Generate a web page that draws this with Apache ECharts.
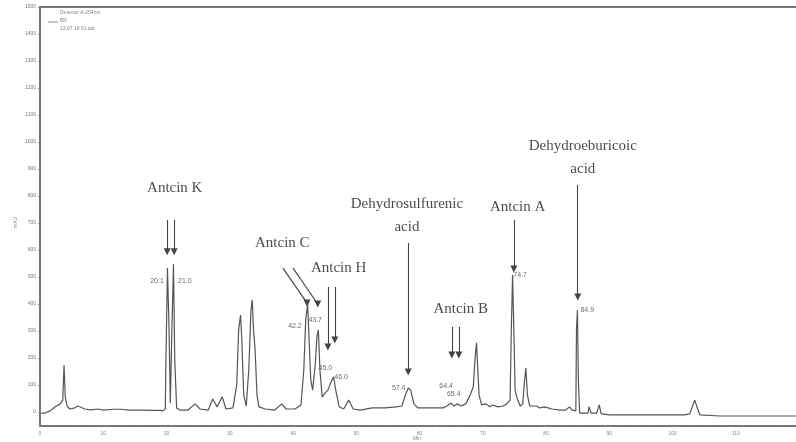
<!DOCTYPE html>
<html><head><meta charset="utf-8">
<script src="https://cdn.jsdelivr.net/npm/echarts@6/dist/echarts.min.js"></script>
<style>html,body{margin:0;padding:0;background:#fff}#c{width:796px;height:442px}</style>
</head><body><div id="c"></div>
<script>
// ---- data ----
const traceTime = [0.2,0.8,1.6,2.4,3.2,3.6,3.8,4.0,4.3,4.7,5.5,6.0,6.3,7.1,8.0,9.2,10.0,11.7,12.8,14.0,16.0,18.0,19.0,
  19.4,19.8,19.9,20.15,20.4,20.6,20.85,21.1,21.3,21.6,22.1,23.4,24.5,25.3,26.6,27.3,28.0,28.8,29.4,30.5,
  31.1,31.4,31.7,31.9,32.2,32.6,33.0,33.35,33.55,33.75,34.0,34.3,34.6,35.6,37.1,38.2,38.9,40.3,
  41.25,41.7,42.0,42.3,42.5,42.8,43.1,43.5,43.8,44.0,44.25,44.6,45.05,45.5,46.0,46.4,46.8,47.3,48.0,48.8,49.5,50.6,52.5,54.5,
  56.3,57.2,57.7,58.2,58.6,59.1,59.7,61.6,63.7,64.3,65.0,65.4,66.0,66.5,67.3,68.0,68.5,68.75,69.0,69.2,69.4,69.8,70.5,71.1,71.6,72.4,73.2,73.8,
  74.3,74.5,74.7,74.9,75.1,75.4,75.9,76.3,76.6,76.8,77.05,77.4,78.5,79.0,79.8,80.9,82.2,83.1,83.7,84.1,84.7,84.8,84.95,85.1,85.3,
  86.1,86.6,86.8,87.1,88.0,88.4,88.7,90.1,93.3,96.4,99.6,101.9,102.7,103.2,103.5,103.8,104.3,107.5,110.6,113.8,119.5];
const traceSignal = [-4,-4,4,19,30,44,174,52,22,11,15,22,15,11,8,11,7,10,10,7,7,6,6,
  4,11,181,533,304,33,304,548,193,15,7,7,30,11,7,48,19,56,11,15,
  100,304,359,267,63,22,156,378,415,304,230,63,19,11,7,30,11,11,
  26,156,341,400,285,119,81,174,285,304,156,56,70,81,111,130,74,19,11,44,11,7,15,15,
  19,22,59,89,81,30,15,15,15,22,33,22,30,22,30,63,94,193,256,156,63,26,30,19,26,19,22,30,
  44,304,507,304,81,52,22,30,119,163,63,22,22,15,19,11,7,7,19,7,4,304,378,119,-4,
  -4,-4,19,-4,-4,26,-7,-11,-11,-11,-11,-11,-7,26,44,22,-11,-15,-15,-15,-15];
const xTickLabels = [0,10,20,30,40,50,60,70,80,90,100,110];
const yTickLabels = [0,100,200,300,400,500,600,700,800,900,1000,1100,1200,1300,1400,1500];
const compoundNames = ['Antcin K','Antcin C','Antcin H','Dehydrosulfurenic\nacid','Antcin B','Antcin A','Dehydroeburicoic\nacid'];
const peakLabels = ['20.1','21.0','42.2','43.7','45.0','46.0','57.4','64.4','65.4','74.7','84.9'];

// ---- annotation placement (data coordinates) ----
const compoundAt = [[21.3,830],[38.3,626],[47.2,533],[58.0,728],[66.5,381],[75.5,759],[85.8,941]];
const peakLabelAt = [[18.5,485],[22.9,485],[40.3,319],[43.5,341],[45.1,163],[47.6,130],[56.7,89],[64.2,96],[65.4,67],[75.9,507],[86.5,378]];
const arrows = [
  [20.1,711,20.1,593],[21.2,711,21.2,593],
  [38.4,533,42.2,404],[40.0,533,43.9,400],
  [45.5,463,45.5,241],[46.6,463,46.6,267],
  [58.2,626,58.2,148],
  [65.1,315,65.1,211],[66.2,315,66.2,211],
  [74.9,711,74.9,530],
  [85.0,841,85.0,426]
];

const chart = echarts.init(document.getElementById('c'));
const serif = "'Liberation Serif','Times New Roman',serif";
const sans = "'Liberation Sans',Arial,sans-serif";
chart.setOption({
  animation: false,
  backgroundColor: '#fff',
  grid: {left: 40, right: 0, top: 7, bottom: 16, containLabel: false},
  xAxis: [{
    type: 'value', min: 0, max: 119.5, interval: 10,
    axisLine: {onZero: false, lineStyle: {color: '#777', width: 2, type: [4, 1.5]}},
    axisTick: {show: false},
    axisLabel: {color: '#888', fontSize: 5, margin: 5, fontFamily: sans, showMaxLabel: false,
      formatter: v => xTickLabels.includes(v) ? String(v) : ''},
    splitLine: {show: false}
  }, {
    type: 'value', position: 'top', min: 0, max: 119.5,
    axisLine: {show: true, onZero: false, lineStyle: {color: '#777', width: 2}},
    axisTick: {show: false}, axisLabel: {show: false}, splitLine: {show: false}
  }],
  yAxis: {
    type: 'value', min: -52, max: 1500,
    axisLine: {show: true, onZero: false, lineStyle: {color: '#777', width: 2}},
    axisTick: {show: true, length: 2, lineStyle: {color: '#888'}, customValues: yTickLabels},
    axisLabel: {color: '#777', fontSize: 5, margin: 4, fontFamily: sans, customValues: yTickLabels,
      formatter: v => String(v)},
    splitLine: {show: false}
  },
  graphic: [
    {type: 'line', shape: {x1: 48, y1: 22, x2: 58, y2: 22}, style: {stroke: '#888', lineWidth: 1}},
    {type: 'text', left: 60, top: 10, style: {text: 'Detector A-254nm', font: '5px ' + sans, fill: '#888'}},
    {type: 'text', left: 60, top: 18, style: {text: 'BR', font: '5px ' + sans, fill: '#888'}},
    {type: 'text', left: 60, top: 26, style: {text: '13.07.18 01.dat', font: '5px ' + sans, fill: '#888'}},
    {type: 'text', x: 13, y: 228, rotation: Math.PI / 2, style: {text: 'mAU', font: '5px ' + sans, fill: '#888'}},
    {type: 'text', left: 413, top: 436, style: {text: 'Min', font: '5px ' + sans, fill: '#888'}}
  ],
  series: [{
    type: 'line', name: 'trace',
    data: traceTime.map((t, i) => [t, traceSignal[i]]),
    showSymbol: false, symbol: 'none',
    lineStyle: {color: '#555', width: 1.2},
    markLine: {
      silent: true, symbol: ['none', 'triangle'], symbolSize: 7, symbolRotate: 180,
      label: {show: false},
      lineStyle: {color: '#444', width: 1.1, type: 'solid'},
      data: arrows.map(a => [{coord: [a[0], a[1]]}, {coord: [a[2], a[3]]}])
    }
  }, {
    type: 'scatter', name: 'compounds', symbolSize: 0, silent: true,
    data: compoundAt.map((p, i) => ({value: p, name: compoundNames[i]})),
    label: {show: true, position: 'inside', formatter: p => p.name,
      fontFamily: serif, fontSize: 15, color: '#1a1a1a', lineHeight: 23, align: 'center', verticalAlign: 'middle'}
  }, {
    type: 'scatter', name: 'peaks', symbolSize: 0, silent: true,
    data: peakLabelAt.map((p, i) => ({value: p, name: peakLabels[i]})),
    label: {show: true, position: 'inside', formatter: p => p.name,
      fontFamily: sans, fontSize: 7, color: '#444', align: 'center', verticalAlign: 'middle'}
  }]
});
</script></body></html>
